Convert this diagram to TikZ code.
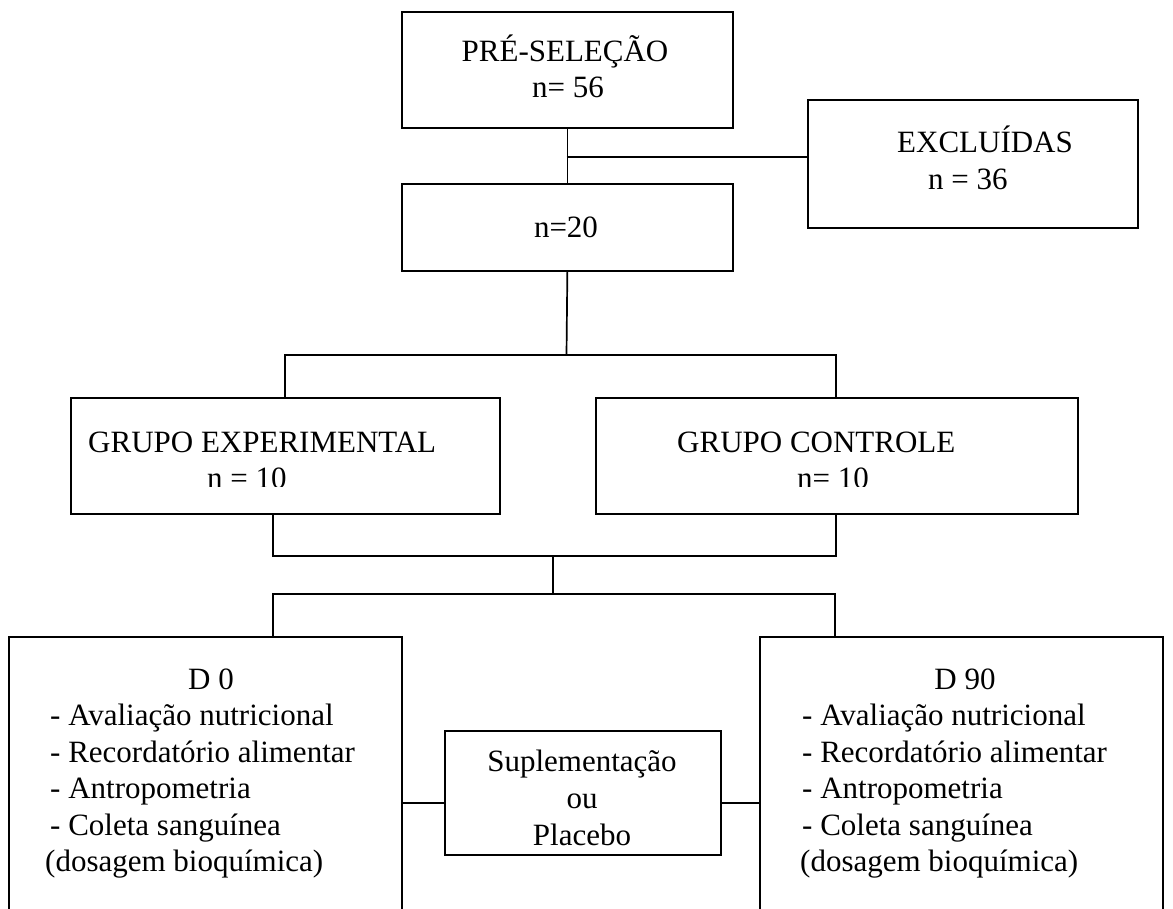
\documentclass[tikz,border=0pt]{standalone}
\usepackage{fontspec}
\setmainfont{Liberation Serif}
\begin{document}
\begin{tikzpicture}[x=1pt,y=-1pt,
  box/.style={draw, line width=1.7pt, inner sep=0pt, anchor=north west},
  txt/.style={inner sep=0pt, font=\fontsize{31}{36}\selectfont},
  conn/.style={draw, line width=1.7pt}]
\useasboundingbox (0,0) rectangle (1173,909);
\fill[white] (0,0) rectangle (1173,909);
\clip (0,0) rectangle (1173,909);
% boxes
\node[box, minimum width=331pt, minimum height=116pt] (pre) at (401,11) {};
\node[box, minimum width=330pt, minimum height=128pt] (exc) at (807,99) {};
\node[box, minimum width=331pt, minimum height=87pt] (n20) at (401,183) {};
\node[box, minimum width=429pt, minimum height=116pt] (exp) at (70,397) {};
\node[box, minimum width=482pt, minimum height=116pt] (ctl) at (595,397) {};
\node[box, minimum width=393pt, minimum height=300pt] (d0) at (8,636) {};
\node[box, minimum width=403pt, minimum height=300pt] (d90) at (759,636) {};
\node[box, minimum width=276pt, minimum height=124pt] (sup) at (444,730) {};
% texts
\node[txt, anchor=base] (pre1) at (565,62) {PRÉ-SELEÇÃO};
\node[txt, anchor=base] (pre2) at (568,98) {n= 56};
\node[txt, anchor=base west] (exc1) at (897,153) {EXCLUÍDAS};
\node[txt, anchor=base west] (exc2) at (928,190) {n = 36};
\node[txt, anchor=base] (n20t) at (566,238) {n=20};
\node[txt, anchor=base west] (exp1) at (88,452) {GRUPO EXPERIMENTAL};
\node[txt, anchor=base west] (ctl1) at (677,452) {GRUPO CONTROLE};
\begin{scope}
\clip (0,300) rectangle (1173,486);
\node[txt, anchor=base west] (exp2) at (207,488) {n = 10};
\node[txt, anchor=base west] (ctl2) at (797,488) {n= 10};
\end{scope}
\node[txt, anchor=base] (d0a) at (211,689) {D 0};
\node[txt, anchor=base west] (d0b) at (50,725.5) {- Avaliação nutricional};
\node[txt, anchor=base west] (d0c) at (50,762) {- Recordatório alimentar};
\node[txt, anchor=base west] (d0d) at (50,798.5) {- Antropometria};
\node[txt, anchor=base west] (d0e) at (50,835) {- Coleta sanguínea};
\node[txt, anchor=base west] (d0f) at (45,871.5) {(dosagem bioquímica)};
\node[txt, anchor=base] (d9a) at (965,689) {D 90};
\node[txt, anchor=base west] (d9b) at (802,725.5) {- Avaliação nutricional};
\node[txt, anchor=base west] (d9c) at (802,762) {- Recordatório alimentar};
\node[txt, anchor=base west] (d9d) at (802,798.5) {- Antropometria};
\node[txt, anchor=base west] (d9e) at (802,835) {- Coleta sanguínea};
\node[txt, anchor=base west] (d9f) at (800,871.5) {(dosagem bioquímica)};
\node[txt, anchor=base] (sup1) at (582,771) {Suplementação};
\node[txt, anchor=base] (sup2) at (582,808) {ou};
\node[txt, anchor=base] (sup3) at (582,845) {Placebo};
% connectors
\coordinate (j1) at (566.5,157);
\draw[conn] (pre.south) -- (n20.north);
\draw[conn] (j1) -- (exc.west |- j1);
\coordinate (j2) at (566.5,355);
\coordinate (a1) at (285,397);
\coordinate (a2) at (836,397);
\draw[conn] (n20.south) -- (j2);
\draw[conn] (a1) -- (a1 |- j2) -- (a2 |- j2) -- (a2);
\coordinate (b1) at (273,513);
\coordinate (b2) at (836,513);
\coordinate (j3) at (553,556);
\coordinate (j4) at (553,594);
\draw[conn] (b1) -- (b1 |- j3) -- (b2 |- j3) -- (b2);
\draw[conn] (j3) -- (j4);
\coordinate (c1) at (273,636);
\coordinate (c2) at (835,636);
\draw[conn] (c1) -- (c1 |- j4) -- (c2 |- j4) -- (c2);
\coordinate (s1) at (401,803);
\coordinate (s2) at (444,803);
\coordinate (s3) at (720,803);
\coordinate (s4) at (759,803);
\draw[conn] (s1) -- (s2);
\draw[conn] (s3) -- (s4);
\end{tikzpicture}
\end{document}
